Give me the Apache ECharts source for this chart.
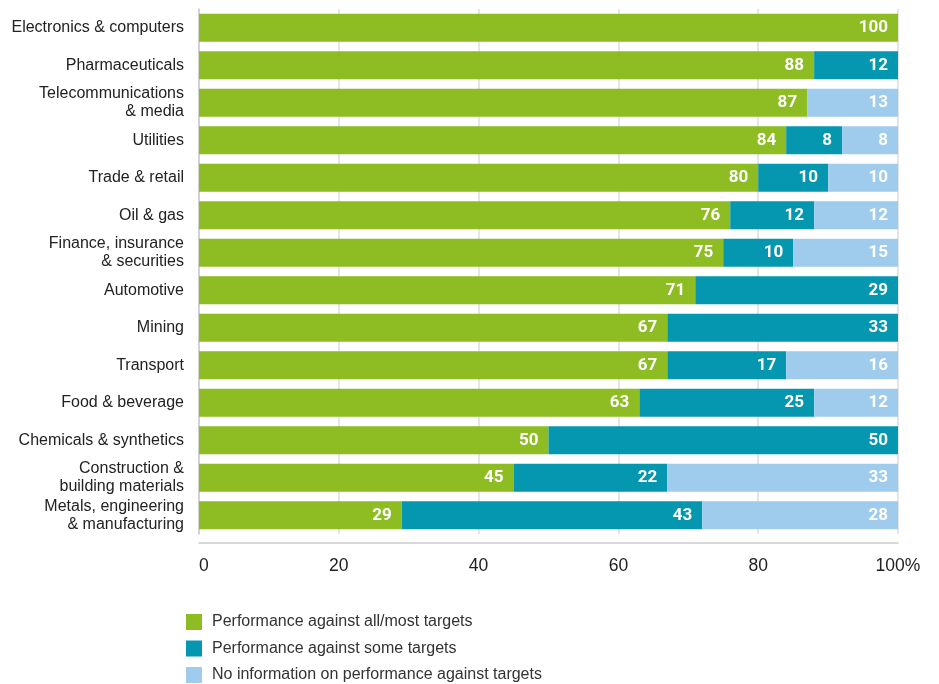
<!DOCTYPE html>
<html>
<head>
<meta charset="utf-8">
<script src="https://cdn.jsdelivr.net/npm/echarts@6/dist/echarts.min.js"></script>
<style>
  html, body { margin: 0; padding: 0; background: #fff; }
  #chart { width: 939px; height: 684px; }
</style>
</head>
<body>
<div id="chart"></div>
<script>
const sectors = [
  'Electronics & computers',
  'Pharmaceuticals',
  'Telecommunications\n& media',
  'Utilities',
  'Trade & retail',
  'Oil & gas',
  'Finance, insurance\n& securities',
  'Automotive',
  'Mining',
  'Transport',
  'Food & beverage',
  'Chemicals & synthetics',
  'Construction &\nbuilding materials',
  'Metals, engineering\n& manufacturing'
]
// null = segment not present
const allMost = [100, 88, 87, 84, 80, 76, 75, 71, 67, 67, 63, 50, 45, 29]
const someTargets = [null, 12, null, 8, 10, 12, 10, 29, 33, 17, 25, 50, 22, 43]
const noInfo = [null, null, 13, 8, 10, 12, 15, null, null, 16, 12, null, 33, 28]
const xTicks = [0, 20, 40, 60, 80, 100]

const seriesNames = [
  'Performance against all/most targets',
  'Performance against some targets',
  'No information on performance against targets'
]
const colors = ['#8dbd23', '#0597b0', '#9fcbec']

const chart = echarts.init(document.getElementById('chart'))

const label = {
  show: true,
  position: 'insideRight',
  distance: 10,
  color: '#fff',
  fontFamily: 'Roboto',
  fontWeight: 'bold',
  fontSize: 17
}

chart.setOption({
  animation: false,
  textStyle: { fontFamily: 'Liberation Sans' },
  legend: {
    orient: 'vertical',
    left: 186,
    top: 614,
    padding: 0,
    itemWidth: 16,
    itemHeight: 16,
    itemGap: 10.5,
    icon: 'rect',
    textStyle: { fontSize: 16, color: '#333', fontFamily: 'Liberation Sans', padding: [0, 0, 0, 5] },
    data: seriesNames
  },
  grid: {
    left: 199,
    right: 41,
    top: 9,
    bottom: 150
  },
  xAxis: {
    type: 'value',
    min: 0,
    max: 100,
    interval: 20,
    offset: 9,
    axisLine: { show: true, lineStyle: { color: '#ccc', width: 1.5 } },
    axisTick: { show: false },
    splitLine: { show: true, lineStyle: { color: '#ddd', width: 1.5 } },
    axisLabel: {
      fontSize: 17.5,
      color: '#222',
      margin: 14,
      alignMinLabel: 'left',
      formatter: v => (xTicks.indexOf(v) === xTicks.length - 1 ? '100%' : String(v))
    }
  },
  yAxis: {
    type: 'category',
    inverse: true,
    data: sectors,
    axisLine: { show: true, lineStyle: { color: '#ccc', width: 1.5 } },
    axisTick: { show: false },
    axisLabel: {
      fontSize: 16,
      color: '#222',
      margin: 15,
      lineHeight: 18,
      align: 'right'
    }
  },
  series: [
    { name: seriesNames[0], type: 'bar', stack: 'total', data: allMost, barWidth: 28, itemStyle: { color: colors[0] }, label },
    { name: seriesNames[1], type: 'bar', stack: 'total', data: someTargets, barWidth: 28, itemStyle: { color: colors[1] }, label },
    { name: seriesNames[2], type: 'bar', stack: 'total', data: noInfo, barWidth: 28, itemStyle: { color: colors[2] }, label }
  ]
})
</script>
</body>
</html>
